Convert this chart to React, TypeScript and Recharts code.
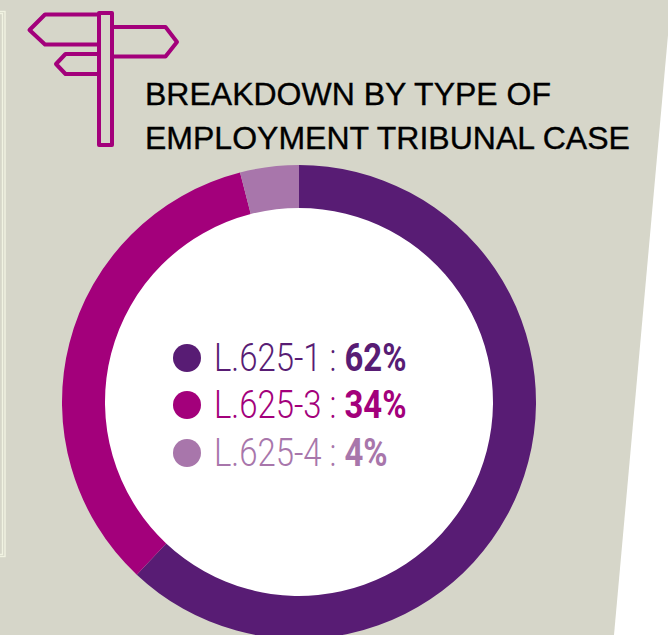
import { PieChart, Pie, Cell, Legend } from 'recharts';

const CODES = ['L.625-1', 'L.625-3', 'L.625-4'];
const SHARES = [62, 34, 4];
const COLORS = ['#581c74', '#a3007b', '#a876ab'];
const TITLE_LINES = ['BREAKDOWN BY TYPE OF', 'EMPLOYMENT TRIBUNAL CASE'];

const BG = '#d6d6c9';
const data = CODES.map((name, i) => ({ name, value: SHARES[i] }));

const CONDENSED = 0.865;

function LegendRows() {
  return (
    <div style={{ fontFamily: 'Roboto, "Liberation Sans", sans-serif' }}>
      {data.map((d, i) => (
        <div key={d.name} style={{ height: 47.5, display: 'flex', alignItems: 'center', color: COLORS[i] }}>
          <span style={{ width: 28, height: 28, borderRadius: '50%', background: COLORS[i], display: 'inline-block', marginRight: 13 }} />
          <span
            style={{
              fontSize: 38,
              fontWeight: 300,
              whiteSpace: 'nowrap',
              transform: `scaleX(${CONDENSED})`,
              transformOrigin: 'left center',
            }}
          >
            {d.name} : <b style={{ fontWeight: 700 }}>{d.value}%</b>
          </span>
        </div>
      ))}
    </div>
  );
}

export default function App() {
  return (
    <div style={{ position: 'absolute', left: 0, top: 0, width: 668, height: 635, overflow: 'hidden', background: '#fff' }}>
      <svg width={668} height={635} style={{ position: 'absolute', left: 0, top: 0 }}>
        <polygon points="0,0 668,0 668,35 614,635 0,635" fill={BG} />
        <g fill="none" stroke="#f1f3e2" strokeWidth={1.4}>
          <rect x={-4} y={11.5} width={9} height={545} />
          <rect x={-4} y={13.5} width={6.5} height={541} />
        </g>
        <circle cx={299} cy={402} r={195} fill="#fff" />
        <g fill="none" stroke="#a3007b" strokeWidth={4} strokeLinejoin="round">
          <polyline points="99,14.5 45,14.5 29.5,30 45,44.5 99,44.5" />
          <polyline points="112,27 165.5,27 177,42 165.5,56.5 112,56.5" />
          <polyline points="99,54 65.5,54 56,64 65.5,74 99,74" />
          <rect x={99} y={13} width={13} height={132} />
        </g>
        <g fontFamily='"Liberation Sans", Arial, sans-serif' fontSize={32} fill="#000" stroke="#000" strokeWidth={0.35}>
          <text x={145} y={104.5}>{TITLE_LINES[0]}</text>
          <text x={145} y={148.5}>{TITLE_LINES[1]}</text>
        </g>
      </svg>
      <PieChart
        width={668}
        height={635}
        margin={{ top: 0, right: 0, bottom: 0, left: 0 }}
        style={{ position: 'absolute', left: 0, top: 0 }}
      >
        <Pie
          data={data}
          dataKey="value"
          nameKey="name"
          cx={299}
          cy={402}
          innerRadius={194}
          outerRadius={237}
          startAngle={90}
          endAngle={-270}
          stroke="none"
          isAnimationActive={false}
        >
          {data.map((d, i) => (
            <Cell key={d.name} fill={COLORS[i]} />
          ))}
        </Pie>
        <Legend
          content={<LegendRows />}
          layout="vertical"
          wrapperStyle={{ position: 'absolute', left: 173, top: 334, width: 300, bottom: 'auto' }}
        />
      </PieChart>
    </div>
  );
}
